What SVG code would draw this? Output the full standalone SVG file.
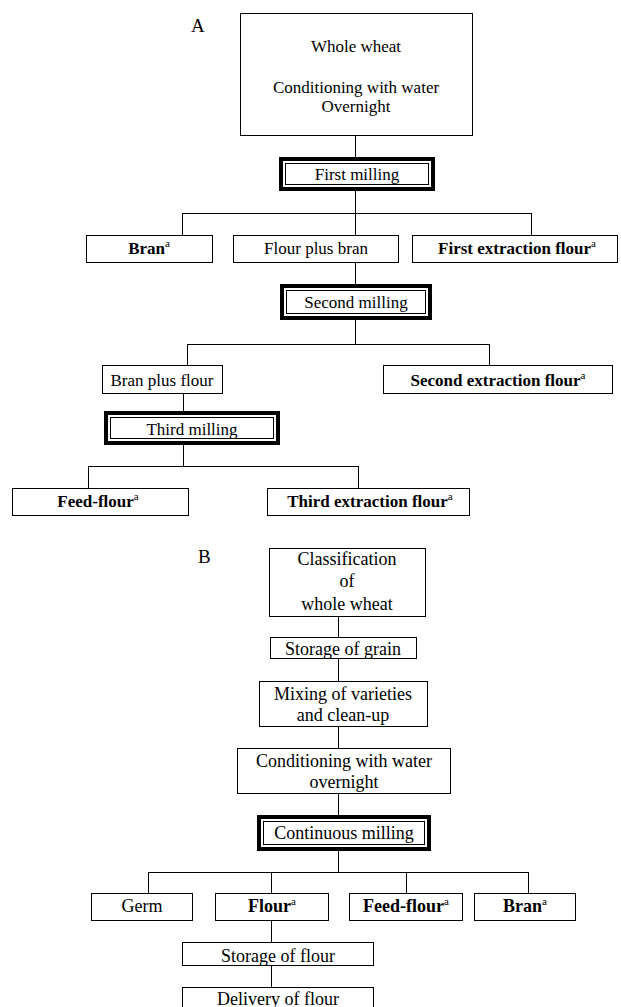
<svg xmlns="http://www.w3.org/2000/svg" width="621" height="1007" viewBox="0 0 621 1007">
<style>
.box{fill:#fff;stroke:#000;stroke-width:1}
.thick{fill:#fff;stroke:#000;stroke-width:4}
.inner{fill:none;stroke:#000;stroke-width:1}
.conn{fill:none;stroke:#000;stroke-width:1}
.t{font-family:"Liberation Serif","Times New Roman",serif;font-size:17px;text-anchor:middle;fill:#000}
.tb{font-family:"Liberation Serif","Times New Roman",serif;font-size:18px;text-anchor:middle;fill:#000}
.b{font-weight:bold}
.sup{font-size:11px;font-weight:normal}
.lbl{font-family:"Liberation Serif","Times New Roman",serif;font-size:19px;fill:#000}
</style>
<rect width="621" height="1007" fill="#fff"/>
<text class="lbl" x="191" y="32">A</text>
<text class="lbl" x="198" y="563">B</text>
<g id="connectors">
<path class="conn" d="M355.5 135 V157 M355.5 191 V213.5 M182.5 213.5 H531.5 M182.5 213 V235 M355.5 213 V235 M531.5 213 V235 M355.5 262 V284 M355.5 320 V344.5 M187.5 344.5 H489.5 M187.5 344 V365 M489.5 344 V365 M183.5 393 V411 M183.5 445 V466.5 M88.5 466.5 H358.5 M88.5 466 V488 M358.5 466 V488"/>
<path class="conn" d="M338.5 616 V637 M338.5 658 V681 M338.5 726 V748 M338.5 793 V815 M338.5 851 V872.5 M148.5 872.5 H528.5 M148.5 872 V893 M271.5 872 V893 M406.5 872 V893 M528.5 872 V893 M271.5 920 V942 M271.5 965 V987"/>
</g>
<g id="a-whole-wheat"><rect class="box" x="240.5" y="13.5" width="232" height="122"/>
<text class="t" x="356" y="52">Whole wheat</text><text class="t" x="356" y="93">Conditioning with water</text><text class="t" x="356" y="112">Overnight</text></g>
<g id="a-first-milling"><rect class="thick" x="281" y="159" width="152" height="30"/><rect class="inner" x="285.5" y="163.5" width="143" height="21"/>
<text class="t" x="357" y="180">First milling</text></g>
<g id="a-bran"><rect class="box" x="86.5" y="235.5" width="126" height="27"/><text class="t b" x="149" y="254">Bran<tspan class="sup" dy="-7">a</tspan></text></g>
<g id="a-flour-plus-bran"><rect class="box" x="233.5" y="235.5" width="165" height="27"/><text class="t" x="316" y="254">Flour plus bran</text></g>
<g id="a-first-extraction"><rect class="box" x="412.5" y="235.5" width="205" height="27"/><text class="t b" x="517" y="254">First extraction flour<tspan class="sup" dy="-7">a</tspan></text></g>
<g id="a-second-milling"><rect class="thick" x="282" y="286" width="148" height="32"/><rect class="inner" x="286.5" y="290.5" width="139" height="23"/>
<text class="t" x="356" y="308">Second milling</text></g>
<g id="a-bran-plus-flour"><rect class="box" x="102.5" y="365.5" width="120" height="28"/><text class="t" x="162" y="386">Bran plus flour</text></g>
<g id="a-second-extraction"><rect class="box" x="383.5" y="365.5" width="229" height="28"/><text class="t b" x="498" y="386">Second extraction flour<tspan class="sup" dy="-7">a</tspan></text></g>
<g id="a-third-milling"><rect class="thick" x="106" y="413" width="172" height="30"/><rect class="inner" x="110.5" y="417.5" width="163" height="21"/>
<text class="t" x="192" y="435">Third milling</text></g>
<g id="a-feed-flour"><rect class="box" x="12.5" y="488.5" width="176" height="27"/><text class="t b" x="98" y="507">Feed-flour<tspan class="sup" dy="-7">a</tspan></text></g>
<g id="a-third-extraction"><rect class="box" x="267.5" y="488.5" width="202" height="27"/><text class="t b" x="370" y="507">Third extraction flour<tspan class="sup" dy="-7">a</tspan></text></g>
<g id="b-classification"><rect class="box" x="269.5" y="548.5" width="156" height="68"/>
<text class="tb" x="347" y="565">Classification</text><text class="tb" x="347" y="587">of</text><text class="tb" x="347" y="610">whole wheat</text></g>
<g id="b-storage-grain"><rect class="box" x="270.5" y="637.5" width="146" height="21"/><text class="tb" x="343" y="655">Storage of grain</text></g>
<g id="b-mixing"><rect class="box" x="259.5" y="681.5" width="168" height="45"/><text class="tb" x="343" y="700">Mixing of varieties</text><text class="tb" x="343" y="721">and clean-up</text></g>
<g id="b-conditioning"><rect class="box" x="237.5" y="748.5" width="213" height="45"/><text class="tb" x="344" y="767">Conditioning with water</text><text class="tb" x="344" y="788">overnight</text></g>
<g id="b-continuous-milling"><rect class="thick" x="259" y="817" width="170" height="32"/><rect class="inner" x="263.5" y="821.5" width="161" height="23"/>
<text class="tb" x="344" y="839">Continuous milling</text></g>
<g id="b-germ"><rect class="box" x="91.5" y="893.5" width="101" height="27"/><text class="tb" x="142" y="912">Germ</text></g>
<g id="b-flour"><rect class="box" x="215.5" y="893.5" width="113" height="27"/><text class="tb b" x="272" y="912">Flour<tspan class="sup" dy="-7">a</tspan></text></g>
<g id="b-feed-flour"><rect class="box" x="349.5" y="893.5" width="113" height="27"/><text class="tb b" x="406" y="912">Feed-flour<tspan class="sup" dy="-7">a</tspan></text></g>
<g id="b-bran"><rect class="box" x="474.5" y="893.5" width="101" height="27"/><text class="tb b" x="525" y="912">Bran<tspan class="sup" dy="-7">a</tspan></text></g>
<g id="b-storage-flour"><rect class="box" x="182.5" y="942.5" width="191" height="23"/><text class="tb" x="278" y="962">Storage of flour</text></g>
<g id="b-delivery"><rect class="box" x="182.5" y="987.5" width="191" height="30"/><text class="tb" x="278" y="1005">Delivery of flour</text></g>
</svg>
